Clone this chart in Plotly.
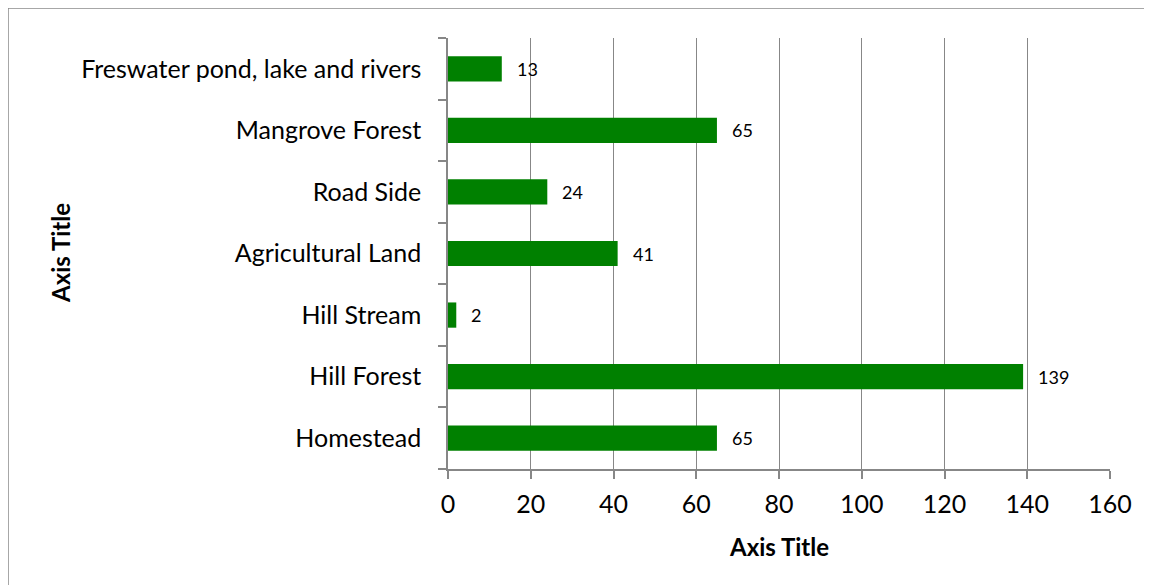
import plotly.graph_objects as go

categories = ["Homestead", "Hill Forest", "Hill Stream", "Agricultural Land",
              "Road Side", "Mangrove Forest", "Freswater pond, lake and rivers"]
values = [65, 139, 2, 41, 24, 65, 13]
x_ticks = [0, 20, 40, 60, 80, 100, 120, 140, 160]

# page body has an 8px margin, so figure coordinates = screen - 8
OFF = 8
W, H = 1152, 585
L, R, T, B = 448 - OFF, 50, 38 - OFF, 124
pw, ph = W - L - R, H - T - B

def px_x(p):  # screen px -> paper
    return (p - OFF - L) / pw

def px_y(p):
    return (H - B - (p - OFF)) / ph

fig = go.Figure()
fig.add_trace(go.Bar(
    y=categories, x=values, orientation="h",
    marker=dict(color="#008000", line=dict(width=0)),
    width=0.41, hoverinfo="skip",
))

annotations = []
for c, v in zip(categories, values):
    annotations.append(dict(x=v, y=c, xref="x", yref="y", text=str(v),
                            showarrow=False, xanchor="left", xshift=13,
                            font=dict(family="Lato", size=18, color="#000")))
annotations.append(dict(x=px_x(779), y=px_y(546), xref="paper", yref="paper",
                        xanchor="center", yanchor="middle",
                        text="<b>Axis Title</b>", showarrow=False,
                        font=dict(family="Lato", size=24, color="#000")))
annotations.append(dict(x=px_x(60), y=px_y(253), xref="paper", yref="paper",
                        xanchor="center", yanchor="middle",
                        text="<b>Axis Title</b>", showarrow=False, textangle=-90,
                        font=dict(family="Lato", size=24, color="#000")))

fig.update_layout(
    width=W, height=H,
    margin=dict(l=L, r=R, t=T, b=B),
    paper_bgcolor="white", plot_bgcolor="white",
    showlegend=False,
    annotations=annotations,
    shapes=[
        dict(type="rect", xref="paper", yref="paper",
             x0=px_x(8), x1=px_x(W + 40), y0=px_y(H + 40), y1=px_y(8),
             line=dict(color="#8a8a8a", width=1.5), fillcolor="rgba(0,0,0,0)"),
    ],
    xaxis=dict(
        range=[0, 160], tickvals=x_ticks, showgrid=True, gridcolor="#878787",
        gridwidth=1.3, showline=True, linecolor="#878787", linewidth=1.5,
        ticks="outside", ticklen=8, tickcolor="#878787", tickwidth=1.5,
        tickfont=dict(family="Lato", size=25, color="#000"), zeroline=False,
        ticklabelstandoff=4, fixedrange=True,
    ),
    yaxis=dict(
        type="category", showgrid=False, showline=True, linecolor="#878787",
        linewidth=1.5, ticks="outside", ticklen=8, tickcolor="#878787",
        tickwidth=1.5, tickson="boundaries",
        tickfont=dict(family="Lato", size=25, color="#000"),
        ticklabelstandoff=20, fixedrange=True,
    ),
)

fig.write_html("out.html")
